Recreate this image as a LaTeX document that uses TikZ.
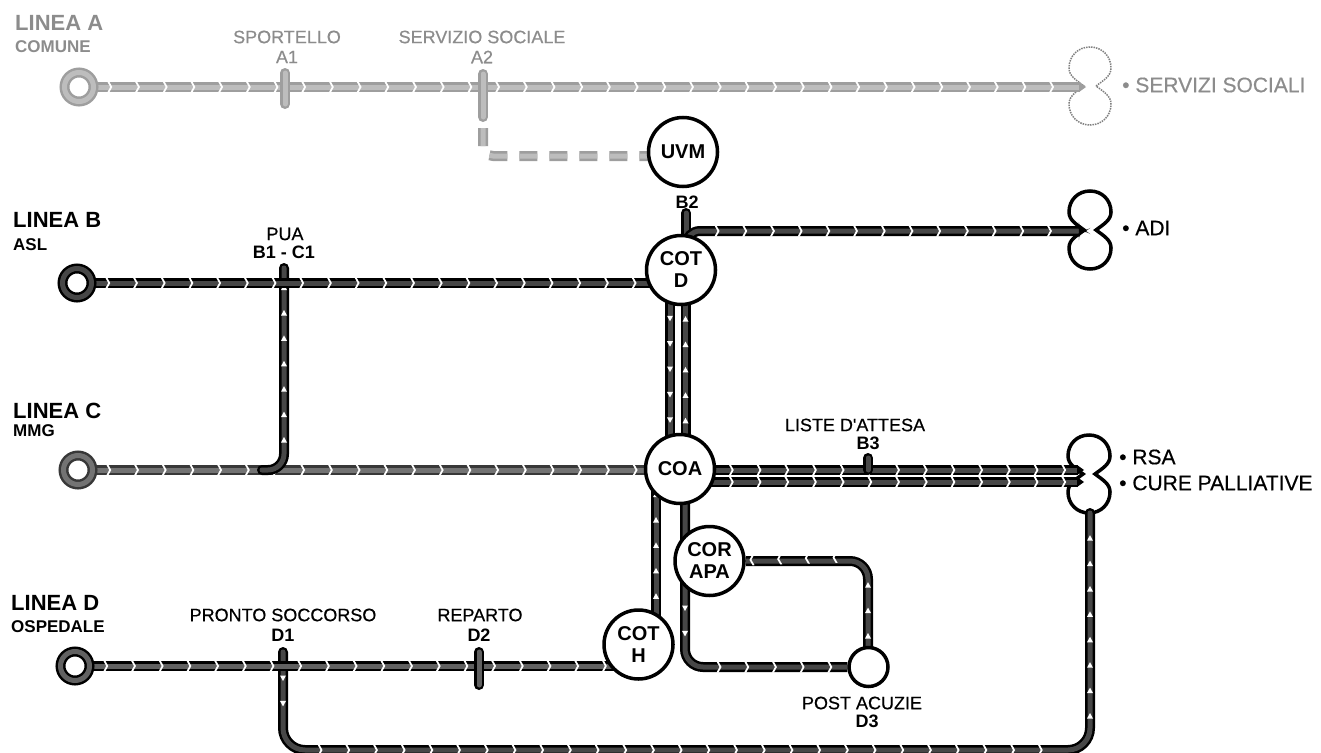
\documentclass[tikz,border=0pt]{standalone}
\usepackage{fontspec}
\setmainfont{Liberation Sans}
\newfontfamily\semifont[FakeBold=0.5]{Liberation Sans}
\usetikzlibrary{positioning,calc,backgrounds,decorations.markings}
\newcommand{\capsule}[2]{\draw[#2, shift={(#1)}] (6,0) .. controls (14,-6) and (21,-10) .. (21,-18) .. controls (21,-30) and (12,-39) .. (0,-39) .. controls (-12,-39) and (-21,-30) .. (-21,-18) .. controls (-21,-10) and (-14,-6) .. (-6,0) .. controls (-14,6) and (-21,10) .. (-21,18) .. controls (-21,30) and (-12,39) .. (0,39) .. controls (12,39) and (21,30) .. (21,18) .. controls (21,10) and (14,6) .. (6,0) -- cycle;}
\begin{document}
\begin{tikzpicture}[
  x=1pt, y=-1pt,
  hub/.style={draw, line width=3.5pt, circle, fill=white, minimum size=69pt, inner sep=0pt, align=center, font=\fontsize{20}{22}\selectfont\bfseries},
  ring/.style={circle, fill=white, minimum size=29pt, inner sep=0pt, line width=2.5pt, double distance=5pt},
  title/.style={anchor=west, inner sep=0pt, font=\fontsize{22}{24}\selectfont\bfseries},
  sub/.style={anchor=west, inner sep=0pt, font=\fontsize{17}{19}\selectfont\bfseries},
  stat/.style={inner sep=0pt, font=\fontsize{18}{20}\selectfont\semifont},
  code/.style={inner sep=0pt, font=\fontsize{18}{20}\selectfont\bfseries},
  bul/.style={anchor=west, inner sep=0pt, font=\fontsize{21}{23}\selectfont\semifont},
  tube/.style={line width=2.5pt, double distance=5pt, line cap=round},
  tubeA/.style={tube, draw=black!38, double=black!26},
  tubeB/.style={tube, draw=black, double=black!72},
  tubeC/.style={tube, draw=black!78, double=black!55},
  tubeD/.style={tube, draw=black, double=black!62},
  chevs/.style={postaction={decorate}, decoration={markings, mark=between positions 14pt and -4pt step 27.7pt with {\fill[white] (-1.5,-5.5) -- (0.5,-5.5) -- (3.5,0) -- (0.5,5.5) -- (-1.5,5.5) -- (1.5,0) -- cycle;}}},
  dots/.style={postaction={decorate}, decoration={markings, mark=between positions 12pt and -4pt step 25.4pt with {\fill[white] (-2.5,-3) -- (3,0) -- (-2.5,3) -- cycle;}}},
  tipA/.style={postaction={decorate}, decoration={markings, mark=at position 1 with {\fill[black!38] (-1,-5) -- (6,0) -- (-1,5) -- cycle;}}},
  tipB/.style={postaction={decorate}, decoration={markings, mark=at position 1 with {\fill[black] (-1,-5) -- (6,0) -- (-1,5) -- cycle;}}}
]
\useasboundingbox (0,0) rectangle (1321,752);

\node[ring, draw=black!38, double=black!26] (ringa) at (79,87) {};
\node[ring, draw=black, double=black!72] (ringb) at (77,283) {};
\node[ring, draw=black!78, double=black!55] (ringc) at (78,470) {};
\node[ring, draw=black, double=black!62] (ringd) at (75,666) {};

\node[hub] (uvm) at (683,152) {UVM};
\node[hub] (cotd) at (681,270) {COT\\D};
\node[hub] (coa) at (680,469) {COA};
\node[hub] (corapa) at (709.5,561) {COR\\APA};
\node[hub] (coth) at (638.5,644.5) {COT\\H};
\node[hub, minimum size=39pt] (post) at (868.5,667) {};

\coordinate (serv) at (1090,86);
\coordinate (adi) at (1090,230);
\coordinate (rsa) at (1089,474);
\coordinate (servw) at (1080,87);
\coordinate (adiw) at (1080,231);
\coordinate (rsau) at (1078,470);
\coordinate (rsal) at (1078,482);
\coordinate (rsab) at (1090,513);
\coordinate (a1) at (285,73);
\coordinate (a1b) at (285,104);
\coordinate (a2) at (483,74);
\coordinate (a2b) at (483,117);
\coordinate (a2d) at (483,128);
\coordinate (uvmd) at (660,156);
\coordinate (b1) at (284,268);
\coordinate (b1v) at (284,452);
\coordinate (b1h) at (262,470);
\coordinate (b2) at (686,213);
\coordinate (b2b) at (686,245);
\coordinate (b2h) at (702,231);
\coordinate (b3) at (868,458);
\coordinate (cdl) at (670,270);
\coordinate (cdr) at (685.5,270);
\coordinate (cal) at (656,469);
\coordinate (car) at (685,469);
\coordinate (cars) at (685,596);
\coordinate (care) at (685,650);
\coordinate (carh) at (704,667);
\coordinate (postv) at (868,648);
\coordinate (posth) at (850,557);
\coordinate (d1) at (283,652);
\coordinate (d1m) at (283,666);
\coordinate (d1v) at (283,728);
\coordinate (d1h) at (305,750);
\coordinate (d1e) at (1068,750);
\coordinate (d1c) at (1090,750);
\coordinate (d1r) at (1090,728);
\coordinate (d2) at (479,652);
\coordinate (d2b) at (479,685);

\node[title, text=black!45] (la) at (15,23) {LINEA A};
\node[sub, text=black!45] (lac) at (15,47) {COMUNE};
\node[title] (lb) at (13,220) {LINEA B};
\node[sub] (lbc) at (13,245) {ASL};
\node[title] (lc) at (13,411) {LINEA C};
\node[sub] (lcc) at (13,431) {MMG};
\node[title] (ld) at (11,603) {LINEA D};
\node[sub] (ldc) at (11,627) {OSPEDALE};

\node[stat, text=black!45] (sport) at (287,37) {SPORTELLO};
\node[stat, text=black!45] (a1lab) at (287,57) {A1};
\node[stat, text=black!45] (socs) at (482,37) {SERVIZIO SOCIALE};
\node[stat, text=black!45] (a2lab) at (482,57) {A2};
\node[stat] (pua) at (285,234) {PUA};
\node[code] (b1lab) at (284,252) {B1 - C1};
\node[code] (b2lab) at (687,202) {B2};
\node[stat] (liste) at (855,425) {LISTE D'ATTESA};
\node[code] (b3lab) at (868,443) {B3};
\node[stat] (ps) at (283,615) {PRONTO SOCCORSO};
\node[code] (d1lab) at (283,635) {D1};
\node[stat] (rep) at (480,615) {REPARTO};
\node[code] (d2lab) at (479,635) {D2};
\node[stat] (pa) at (862,703) {POST ACUZIE};
\node[code] (d3lab) at (867,721) {D3};

\node[bul, text=black!45] (serl) at (1122,85) {\textbullet\ SERVIZI SOCIALI};
\node[bul] (adil) at (1122,228) {\textbullet\ ADI};
\node[bul] (rsal1) at (1119,457) {\textbullet\ RSA};
\node[bul] (rsal2) at (1119,483) {\textbullet\ CURE PALLIATIVE};

\begin{scope}[on background layer]
\capsule{serv}{draw=black!50, line width=1.5pt, densely dotted, fill=white}
\capsule{adi}{draw=black, line width=3.5pt, fill=white}
\capsule{rsa}{draw=black, line width=3.5pt, fill=white}

\draw[tubeA, line cap=butt, tipA] (ringa) -- (servw);
\path[chevs] (ringa) -- (servw);
\draw[tubeA] (a1) -- (a1b);
\draw[tubeA] (a2) -- (a2b);
\draw[tubeA, line cap=butt, dash pattern=on 18pt off 12pt, rounded corners=10pt] (a2d) |- (uvmd);

\draw[tubeC, line cap=butt] (ringc) -- (ringc -| coa);
\path[chevs] (ringc) -- (ringc -| coa);
\draw[tubeB, rounded corners=16pt] (b1) |- (b1h);
\path[dots] (b1v) -- (b1);
\draw[tubeB, line cap=butt] (ringb) -- (ringb -| cotd);
\path[chevs] (ringb) -- (ringb -| cotd);

\draw[tubeB, line cap=butt] (cdl) -- (cdl |- coa);
\path[dots] (cdl |- cotd.south) -- (cdl |- coa);
\draw[tubeB, line cap=butt] (cdr |- coa) -- (cdr);
\path[dots] (cdr |- coa.north) -- (cdr);
\draw[tubeB] (b2) -- (b2b);
\draw[tubeB, line cap=butt, rounded corners=14pt, tipB] (b2b) |- (adiw);
\path[chevs] (b2h) -- (adiw);

\draw[tubeB, line cap=butt, tipB] (coa |- rsau) -- (rsau);
\path[chevs] (coa.east |- rsau) -- (rsau);
\draw[tubeB, line cap=butt, tipB] (coa |- rsal) -- (rsal);
\path[chevs] (coa.east |- rsal) -- (rsal);
\draw[tubeB] (b3) -- (b3 |- rsau);

\draw[tubeB, line cap=butt] (cal) -- (cal |- coth);
\path[dots] (cal |- coth.north) -- (cal);
\draw[tubeB, line cap=butt, rounded corners=18pt] (car) |- (post);
\path[dots] (cars) -- (care);
\path[chevs] (carh) -- (post);
\draw[tubeB, line cap=butt, rounded corners=18pt] (postv) |- (corapa);
\path[dots] (postv) -- (postv |- posth);
\path[chevs] (posth) -- (corapa);

\draw[tubeB, rounded corners=22pt] (d1) |- (d1c) -- (rsab);
\path[dots] (d1m) -- (d1v);
\path[chevs] (d1h) -- (d1e);
\path[dots] (d1r) -- (rsab);
\draw[tubeD, line cap=butt] (ringd) -- (ringd -| coth);
\path[chevs] (ringd) -- (ringd -| coth);
\draw[tubeD] (d2) -- (d2b);
\end{scope}
\end{tikzpicture}
\end{document}
